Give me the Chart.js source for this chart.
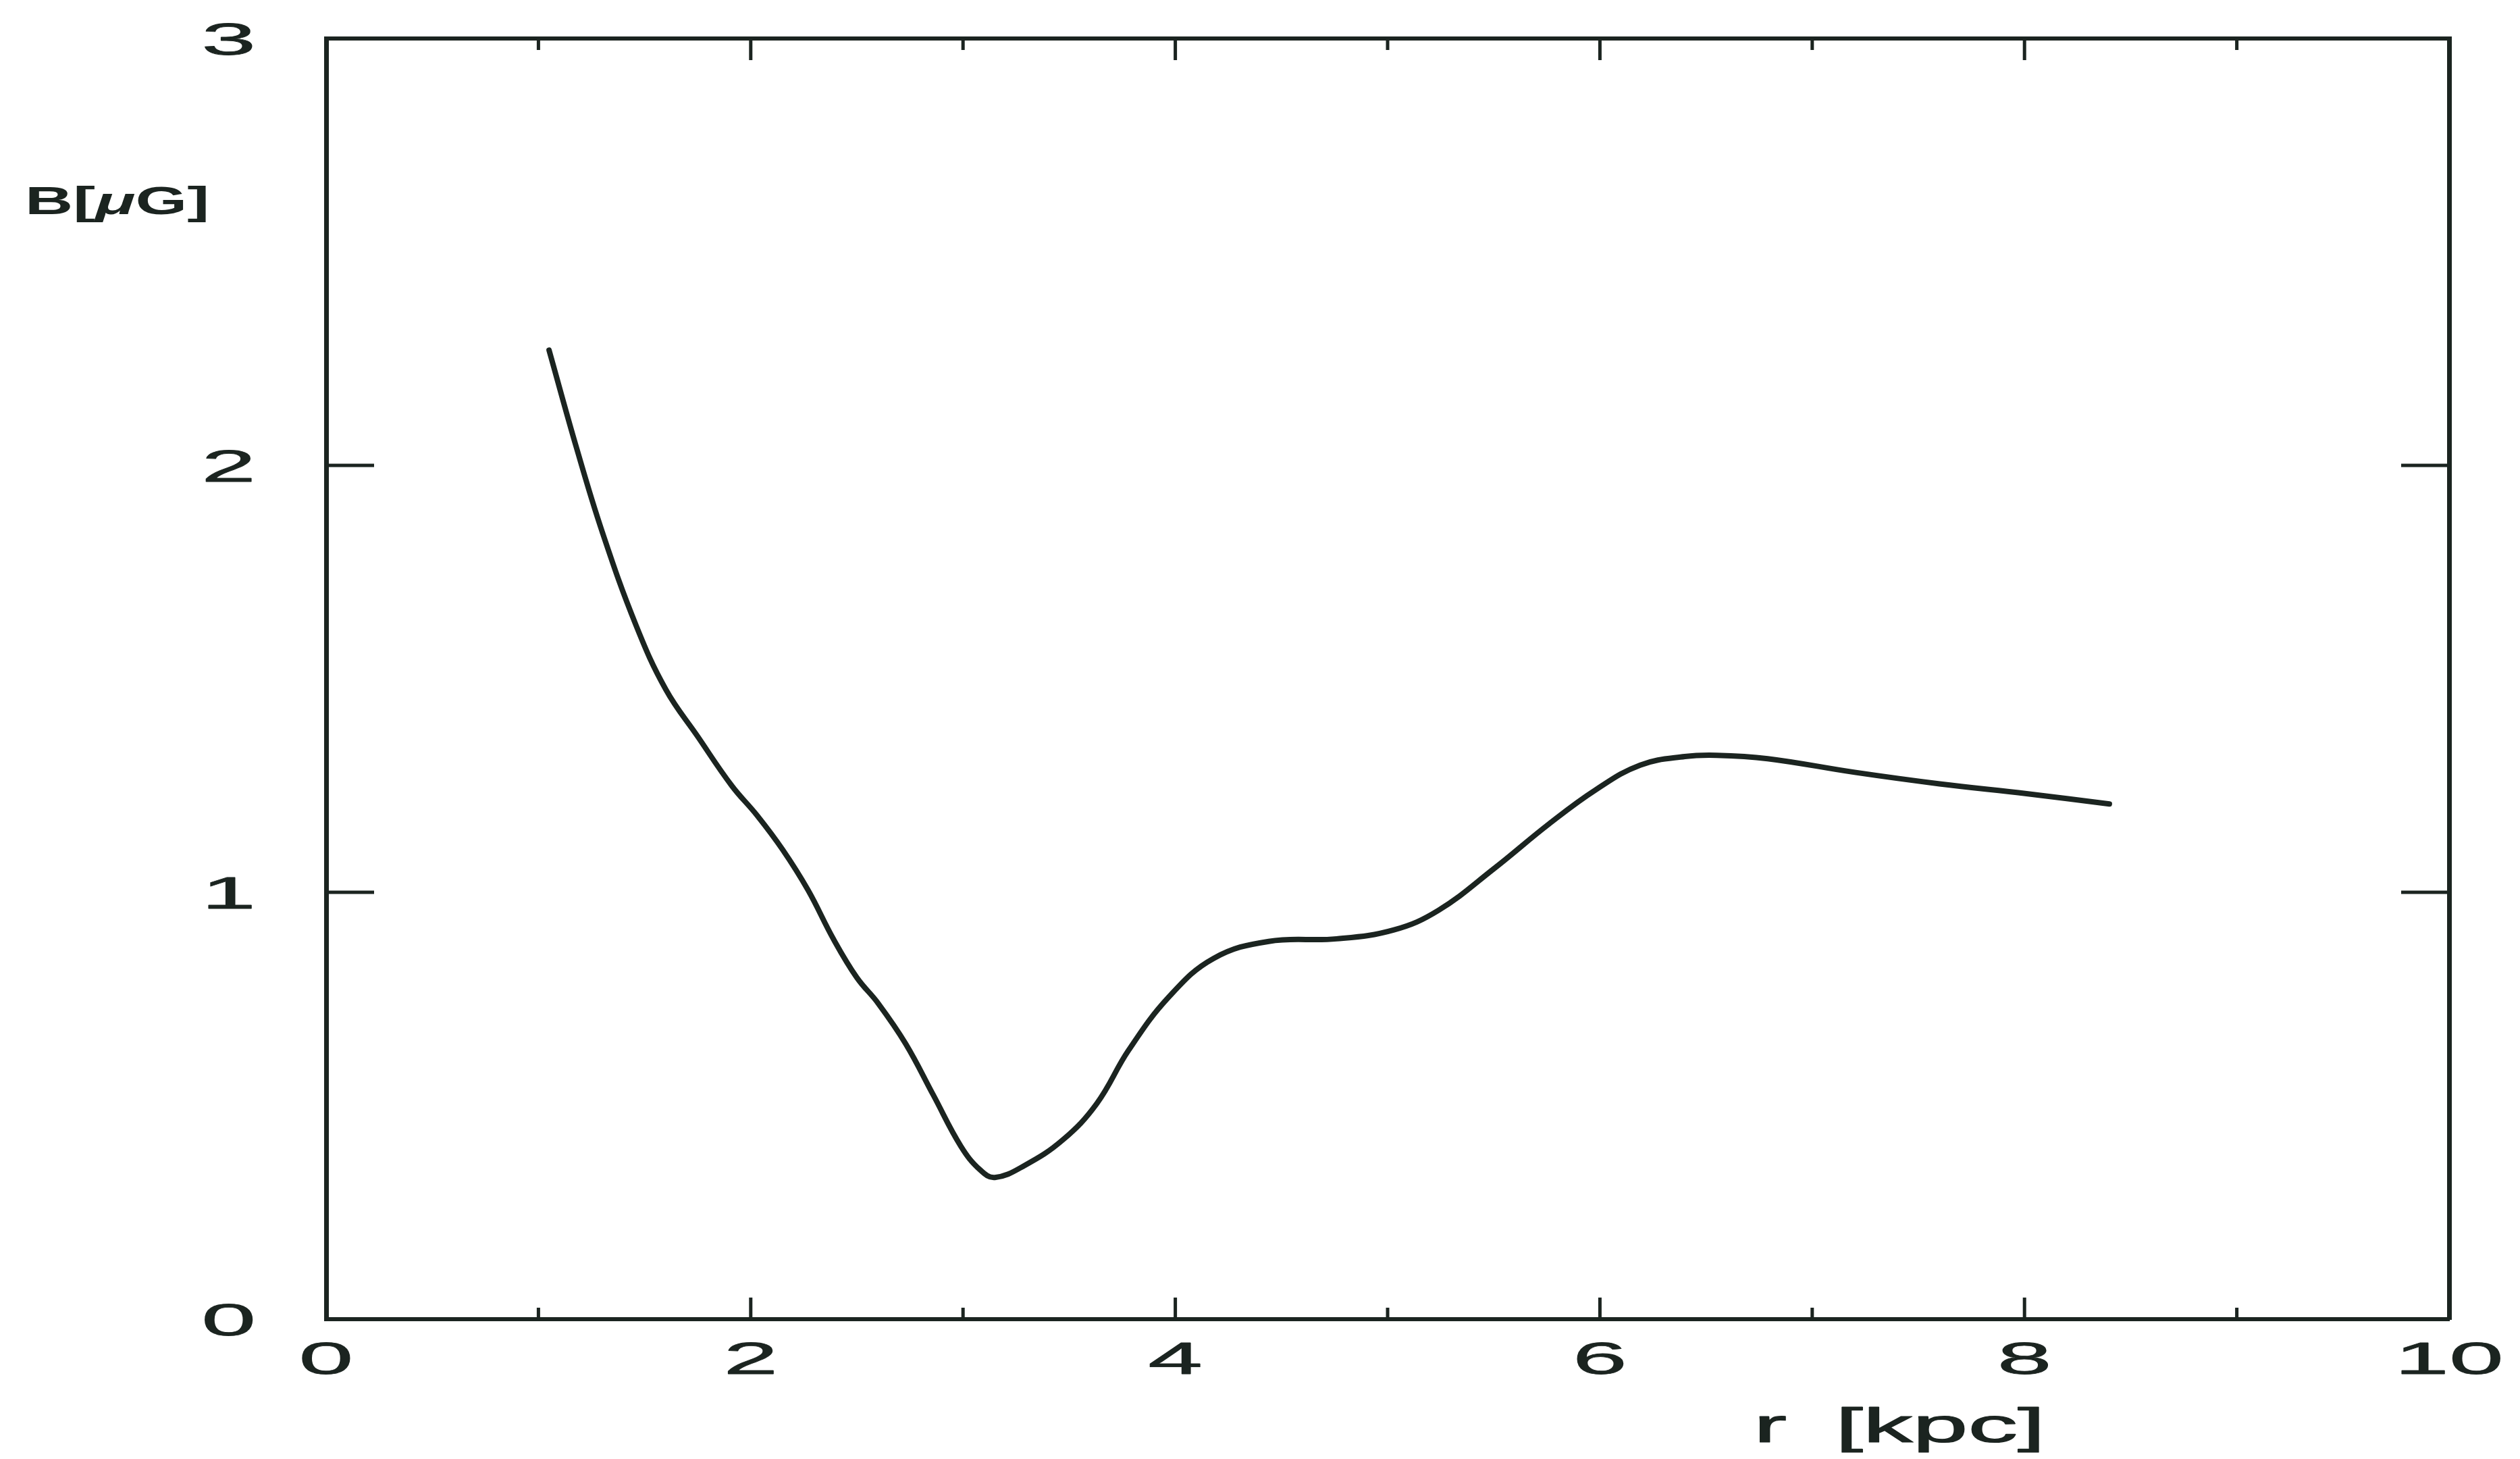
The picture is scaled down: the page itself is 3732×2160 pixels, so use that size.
<!DOCTYPE html>
<html>
<head>
<meta charset="utf-8">
<script src="https://cdn.jsdelivr.net/npm/chart.js@4.4.1/dist/chart.umd.min.js"></script>
<style>
  html, body { margin: 0; padding: 0; background: #ffffff; }
  canvas { display: block; }
</style>
</head>
<body>
<canvas id="c" width="3732" height="2160"></canvas>
<script>
// ---- data ----
const radiusKpc = [1.05, 1.18, 1.30, 1.46, 1.60, 1.75, 1.91, 2.03, 2.15, 2.27, 2.39, 2.50, 2.60, 2.73, 2.86, 2.99, 3.08, 3.15, 3.29, 3.47, 3.63, 3.78, 3.97, 4.18, 4.44, 4.76, 5.03, 5.24, 5.50, 5.76, 5.98, 6.19, 6.40, 6.55, 6.79, 7.20, 7.60, 8.01, 8.40];
const fieldMicroGauss = [2.27, 2.04, 1.845, 1.625, 1.475, 1.365, 1.25, 1.18, 1.10, 1.005, 0.89, 0.80, 0.74, 0.645, 0.525, 0.405, 0.35, 0.332, 0.36, 0.42, 0.505, 0.63, 0.755, 0.845, 0.885, 0.891, 0.912, 0.958, 1.055, 1.16, 1.24, 1.298, 1.318, 1.321, 1.313, 1.281, 1.254, 1.231, 1.207];

const xMajorTicks = [0, 2, 4, 6, 8, 10];
const xMinorTicks = [1, 3, 5, 7, 9];
const yTickValues = [0, 1, 2, 3];
const yInnerTicks = [1, 2];
const xAxisTitle = 'r [kpc]';
const yAxisTitleParts = ['B[', 'μ', 'G]'];

const INK = '#1b2420';

function drawStretched(ctx, text, x, yBase, font, sx, align, thick) {
  ctx.save();
  ctx.font = font;
  ctx.textBaseline = 'alphabetic';
  ctx.textAlign = 'left';
  const w = ctx.measureText(text).width * sx;
  let left = x;
  if (align === 'center') left = x - w / 2;
  else if (align === 'right') left = x - w;
  ctx.translate(left, yBase);
  ctx.scale(sx, 1);
  ctx.fillStyle = INK;
  ctx.strokeStyle = INK;
  ctx.lineJoin = 'round';
  ctx.fillText(text, 0, 0);
  if (thick) { ctx.lineWidth = thick; ctx.strokeText(text, 0, 0); }
  ctx.restore();
  return w;
}

const bgPlugin = {
  id: 'bg',
  beforeDraw(chart) {
    const ctx = chart.ctx;
    ctx.save();
    ctx.fillStyle = '#ffffff';
    ctx.fillRect(0, 0, chart.width, chart.height);
    ctx.restore();
  }
};

const framePlugin = {
  id: 'frame',
  afterDraw(chart) {
    const ctx = chart.ctx;
    const xs = chart.scales.x, ys = chart.scales.y;
    const a = chart.chartArea;
    ctx.save();
    ctx.strokeStyle = INK;
    ctx.lineWidth = 5;
    ctx.lineCap = 'butt';
    const tick = (v, len) => {
      const px = xs.getPixelForValue(v);
      ctx.beginPath();
      ctx.moveTo(px, a.bottom); ctx.lineTo(px, a.bottom - len);
      ctx.moveTo(px, a.top); ctx.lineTo(px, a.top + len);
      ctx.stroke();
    };
    xMajorTicks.forEach(v => tick(v, 32));
    xMinorTicks.forEach(v => tick(v, 17));
    yInnerTicks.forEach(v => {
      const py = ys.getPixelForValue(v);
      ctx.beginPath();
      ctx.moveTo(a.left, py); ctx.lineTo(a.left + 71, py);
      ctx.moveTo(a.right, py); ctx.lineTo(a.right - 71, py);
      ctx.stroke();
    });
    ctx.restore();

    // tick labels
    const tickFont = '66px "Liberation Sans", Arial, sans-serif';
    xMajorTicks.forEach(v => {
      drawStretched(ctx, String(v), xs.getPixelForValue(v), a.bottom + 81, tickFont, 2.2, 'center', 0.8);
    });
    yTickValues.forEach(v => {
      drawStretched(ctx, String(v), 379, ys.getPixelForValue(v) + 23.5, tickFont, 2.2, 'right', 0.8);
    });

    // x-axis title
    const tFont = '72px "Liberation Sans", Arial, sans-serif';
    ctx.save();
    ctx.font = tFont;
    const parts = xAxisTitle.split(' ');
    const wBr = ctx.measureText(parts[1]).width;
    ctx.restore();
    const sxT = 311 / wBr;
    drawStretched(ctx, parts[0], 2597, 2135, tFont, sxT, 'left', 1.2);
    drawStretched(ctx, parts[1], 2718, 2135, tFont, sxT, 'left', 1.2);

    // y-axis title with italic mu
    const yF = 'bold 58px "Liberation Sans", Arial, sans-serif';
    const yFi = 'italic bold 58px "Liberation Sans", Arial, sans-serif';
    ctx.save();
    let total = 0;
    yAxisTitleParts.forEach((p, i) => { ctx.font = i === 1 ? yFi : yF; total += ctx.measureText(p).width; });
    ctx.restore();
    const sxY = 273 / total;
    let xx = 37;
    yAxisTitleParts.forEach((p, i) => {
      xx += drawStretched(ctx, p, xx, 317, i === 1 ? yFi : yF, sxY, 'left', 0);
    });
  }
};

const points = radiusKpc.map((r, i) => ({ x: r, y: fieldMicroGauss[i] }));

const hiddenAxis = (extra) => Object.assign({
  type: 'linear',
  grid: { display: false, drawTicks: false },
  ticks: { display: false },
  border: { display: true, color: INK, width: 6 }
}, extra);

new Chart(document.getElementById('c'), {
  type: 'scatter',
  data: {
    datasets: [{
      data: points,
      showLine: true,
      borderColor: INK,
      borderWidth: 8,
      borderCapStyle: 'round',
      borderJoinStyle: 'round',
      pointRadius: 0,
      tension: 0.4,
      fill: false
    }]
  },
  options: {
    responsive: false,
    animation: false,
    devicePixelRatio: 1,
    layout: { padding: { top: 57, right: 105, left: 0, bottom: 0 } },
    plugins: { legend: { display: false }, tooltip: { enabled: false }, title: { display: false } },
    scales: {
      x: hiddenAxis({ position: 'bottom', min: 0, max: 10, afterFit(s) { s.height = 207; } }),
      y: hiddenAxis({ position: 'left', min: 0, max: 3, border: { display: true, color: INK, width: 7 }, afterFit(s) { s.width = 483; } }),
      x2: hiddenAxis({ position: 'top', min: 0, max: 10, afterFit(s) { s.height = 0; } }),
      y2: hiddenAxis({ position: 'right', min: 0, max: 3, border: { display: true, color: INK, width: 7 }, afterFit(s) { s.width = 0; } })
    }
  },
  plugins: [bgPlugin, framePlugin]
});
</script>
</body>
</html>
